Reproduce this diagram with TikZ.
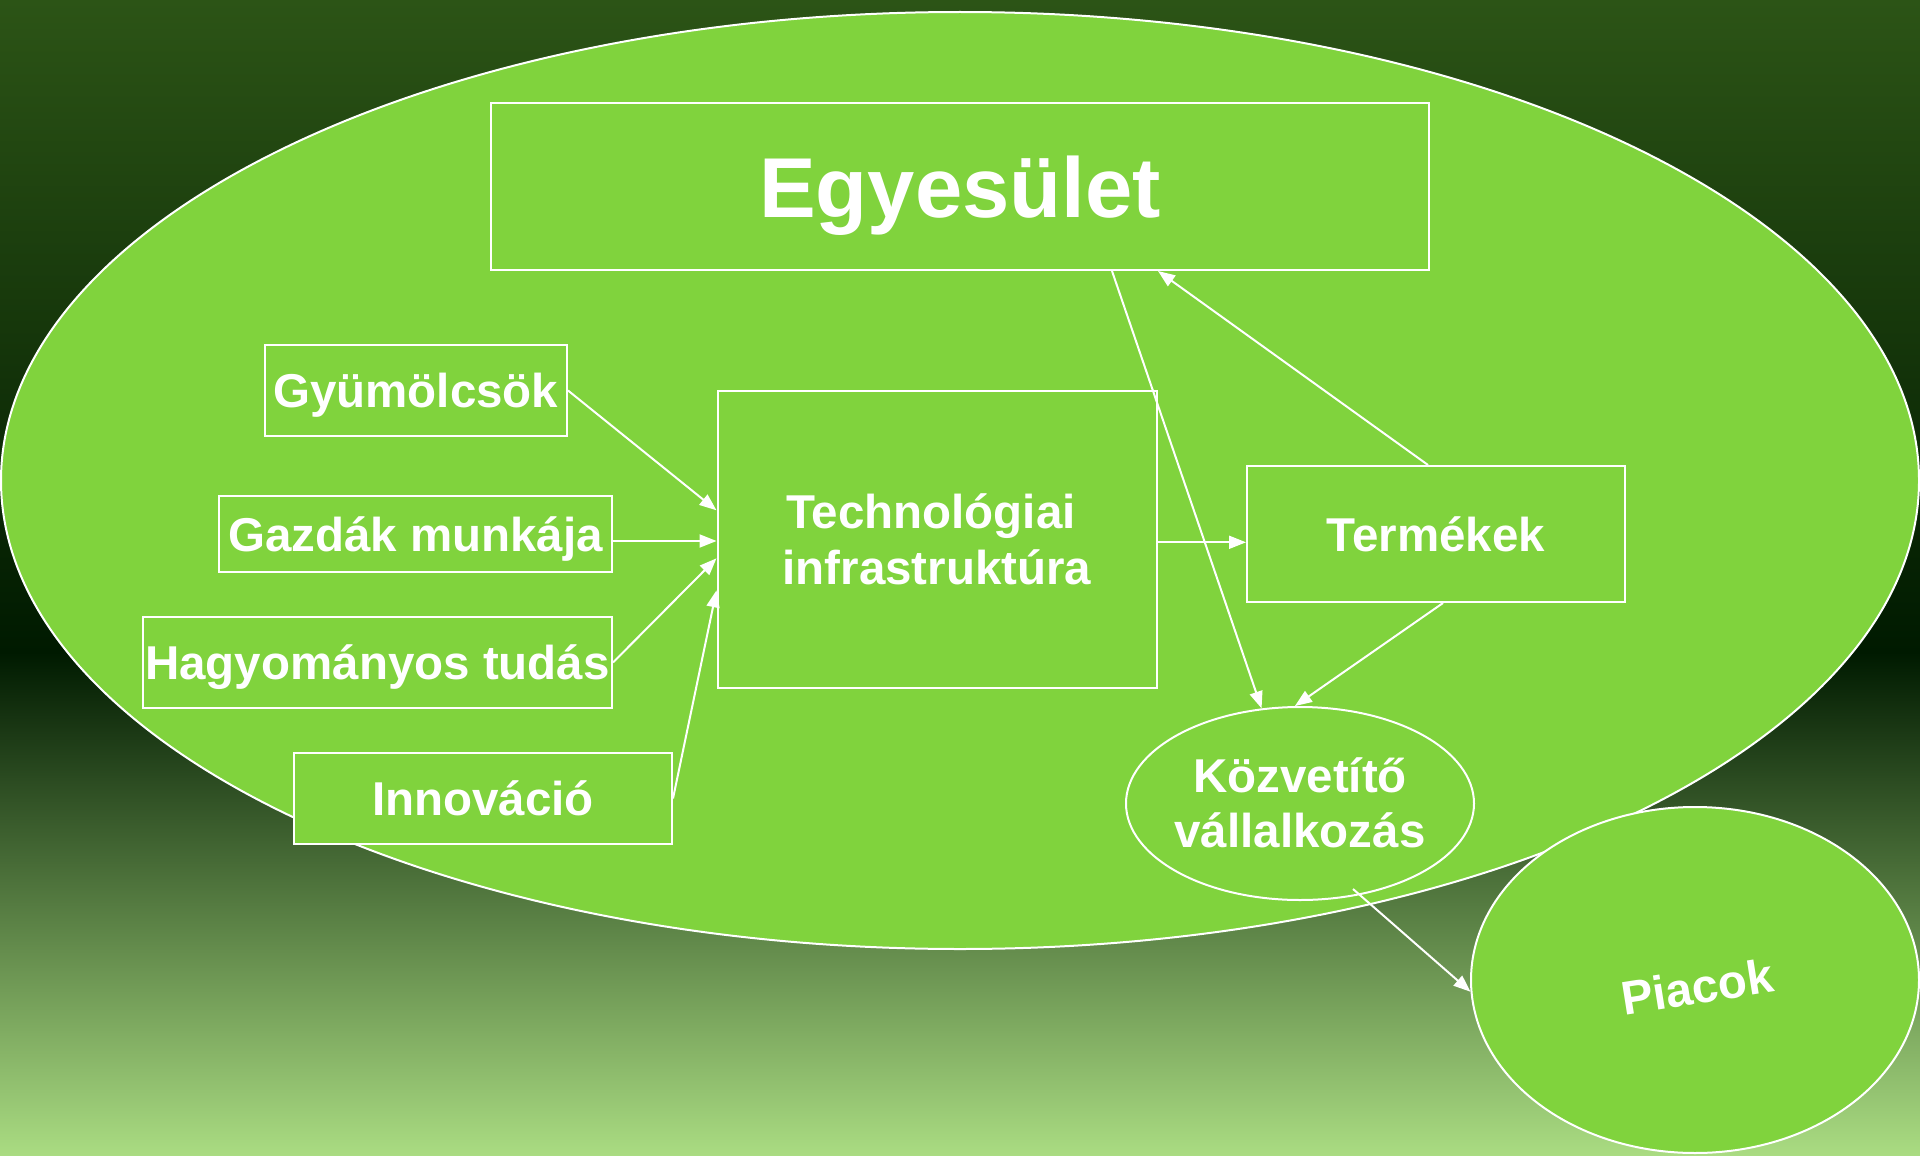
\documentclass[tikz,border=0pt]{standalone}
\usepackage{fontspec}
\setmainfont{Liberation Sans}
\usetikzlibrary{shapes.geometric,arrows.meta,calc}
\definecolor{leaf}{RGB}{128,211,61}
\definecolor{bgtop}{RGB}{44,84,22}
\definecolor{bgdark}{RGB}{0,26,0}
\definecolor{bgbot}{RGB}{170,220,130}
\tikzset{
  lbl/.style={text=white, font=\bfseries\fontsize{47.5}{56}\selectfont, inner sep=0pt, text height=34pt, text depth=0pt},
  box/.style={lbl, draw=white, line width=2pt, fill=leaf, rectangle},
  oval/.style={draw=white, line width=2pt, fill=leaf, ellipse, inner sep=0pt},
  arr/.style={draw=white, line width=2pt, -{Triangle[length=17pt,width=13pt]}},
}
\begin{document}
\begin{tikzpicture}[x=1pt,y=-1pt]
\useasboundingbox (0,0) rectangle (1920,1156);
\shade[top color=bgtop, bottom color=bgdark] (0,0) rectangle (1920,653);
\shade[top color=bgdark, bottom color=bgbot] (0,652) rectangle (1920,1156);

\node[oval, minimum width=1918pt, minimum height=937pt] (outer) at (960,480.5) {};

\node[box, minimum width=938pt, minimum height=167pt, font=\bfseries\fontsize{85}{100}\selectfont, text height=61pt] (egy) at (960,186.5) {Egyesület};
\node[box, minimum width=302.5pt, minimum height=91pt] (gyu) at (415.75,390.5) {Gyümölcsök};
\node[box, minimum width=393pt, minimum height=76pt] (gaz) at (415.5,534) {Gazdák munkája};
\node[box, minimum width=469pt, minimum height=91pt] (hag) at (377.5,662.5) {Hagyományos tudás};
\node[box, minimum width=378pt, minimum height=91pt] (inn) at (483,798.5) {Innováció};
\node[box, minimum width=439.5pt, minimum height=297.4pt] (tech) at (937.25,539.3) {};
\node[lbl] (tech1) at (931,511) {Technológiai};
\node[lbl] (tech2) at (937,567) {infrastruktúra};
\node[box, minimum width=378pt, minimum height=136pt] (ter) at (1436,534) {Termékek};
\node[oval, minimum width=348pt, minimum height=193pt] (koz) at (1300,803.5) {};
\node[lbl] (koz1) at (1300,775.5) {Közvetítő};
\node[lbl] (koz2) at (1300,830.5) {vállalkozás};
\node[oval, minimum width=448pt, minimum height=346pt] (pia) at (1695,980) {};
\node[lbl, rotate=9] (pial) at (1697,987) {Piacok};

\draw[arr] (gyu.east) -- ([yshift=29pt]tech.west);
\draw[arr] ([yshift=-7pt]gaz.east) -- ([yshift=-7pt]gaz.east -| tech.west);
\draw[arr] (hag.east) -- ([yshift=-19pt]tech.west);
\draw[arr] (inn.east) -- ([yshift=-51pt]tech.west);
\draw[arr] ([yshift=-3pt]tech.east) -- ([yshift=-3pt]tech.east -| ter.west);
\draw[arr] ([xshift=152pt]egy.south) -- (koz.112);
\draw[arr] ([xshift=-8pt]ter.north) -- ([xshift=198pt]egy.south);
\draw[arr] ([xshift=7pt]ter.south) -- (koz.93);
\coordinate (kozout) at (1353,889);
\draw[arr] (kozout) -- (pia.183);
\end{tikzpicture}
\end{document}
